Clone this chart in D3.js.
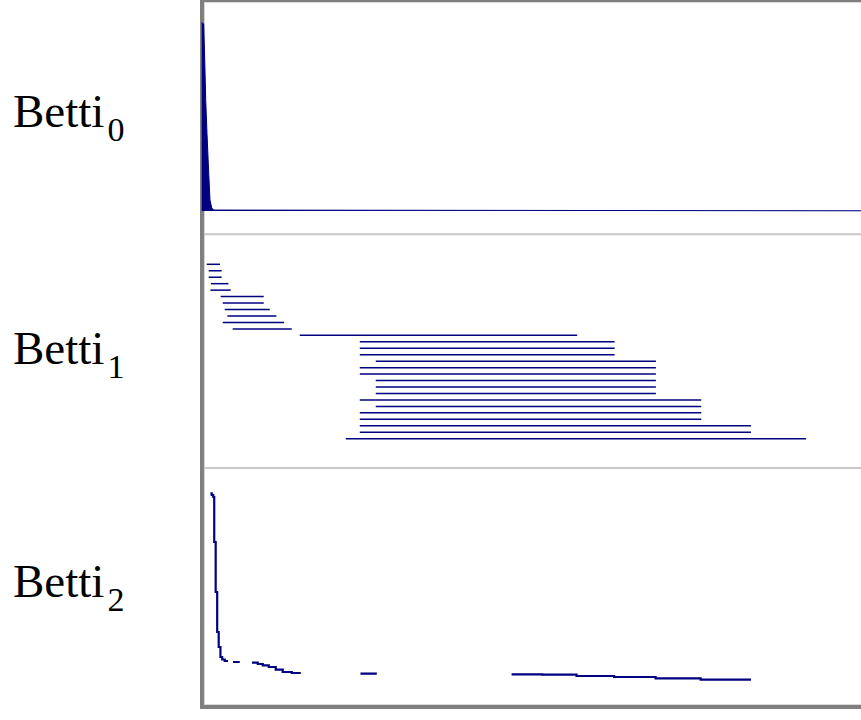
<!DOCTYPE html>
<html>
<head>
<meta charset="utf-8">
<script src="https://cdn.jsdelivr.net/npm/d3@7"></script>
<style>
  html, body { margin: 0; padding: 0; background: #fff; }
  svg { display: block; }
  .lbl { font-family: "Liberation Serif", "Times New Roman", Times, serif; }
</style>
</head>
<body>
<svg id="chart" width="861" height="720"></svg>
<script>
// ---- Data ----
const panelLabels = ["0", "1", "2"];

// Betti_0 curve (filtration, count)
const betti0X = [0, 0.30, 0.46, 0.61, 0.80, 1.06, 1.26, 1.52, 1.82, 100];
const betti0Y = [1000, 992, 799, 587, 413, 201, 58, 16, 5, 1];

// Betti_1 barcode (birth, death)
const betti1Birth = [0.76, 1.06, 1.06, 1.41, 1.32, 2.88, 3.19, 3.49, 3.90, 3.19, 4.70,
  14.87, 23.98, 23.98, 23.98, 26.40, 23.98, 23.98, 26.40, 26.40, 26.40,
  23.98, 26.40, 23.98, 23.98, 23.98, 23.98, 21.85];
const betti1Death = [2.78, 3.03, 3.03, 4.05, 4.40, 9.41, 9.41, 10.32, 11.34, 12.49, 13.66,
  56.95, 62.63, 62.63, 62.63, 68.89, 68.89, 68.89, 68.89, 68.89, 68.89,
  75.77, 75.77, 75.77, 75.77, 83.31, 83.31, 91.65];

// Betti_2 curve (filtration, count); null = not defined
const betti2X = [1.32, 1.52, 1.75, 1.90, 2.12, 2.35, 2.58, 2.84, 3.11, 3.49, 3.99, 3.99,
  4.75, 5.77, 5.77,
  7.63, 8.50, 9.26, 10.17, 11.23, 12.29, 13.66, 15.02, 15.02,
  24.08, 26.56, 26.56,
  47.0, 51.64, 56.86, 62.56, 68.85, 75.68, 83.31];
const betti2Y = [48.18, 47.75, 47.25, 36, 23.5, 13.5, 9.75, 7.25, 6.63, 6.25, 6.25, null,
  6.0, 6.0, null,
  5.83, 5.5, 5.18, 4.75, 4.08, 3.5, 3.25, 3.25, null,
  3.08, 3.08, null,
  2.93, 2.83, 2.5, 2.25, 1.93, 1.58, 1.58];

// ---- Drawing ----
const svg = d3.select("#chart");
const navy = "#000080";

const x = d3.scaleLinear().domain([0, 100]).range([201.7, 861]);

// Frame
svg.append("rect")
  .attr("x", 202).attr("y", 0).attr("width", 720).attr("height", 707)
  .attr("fill", "none").attr("stroke", "#808080").attr("stroke-width", 4);
svg.append("rect")
  .attr("x", 204.5).attr("y", 2.5).attr("width", 720).attr("height", 702)
  .attr("fill", "none").attr("stroke", "#d8d8d8").attr("stroke-width", 1);

// Separators
[234.3, 468].forEach(yy => {
  svg.append("line")
    .attr("x1", 204).attr("x2", 861).attr("y1", yy).attr("y2", yy)
    .attr("stroke", "#c8c8c8").attr("stroke-width", 2);
});

// Betti_0
const y0 = d3.scaleLinear().domain([0, 1000]).range([211, 22.5]);
const b0 = betti0X.map((v, i) => [v, betti0Y[i]]);
svg.append("path")
  .datum(b0)
  .attr("fill", navy)
  .attr("d", d3.area().x(d => x(d[0])).y0(y0(0)).y1(d => y0(d[1])));
svg.append("path")
  .datum(b0)
  .attr("fill", "none").attr("stroke", navy).attr("stroke-width", 1)
  .attr("d", d3.line().x(d => x(d[0])).y(d => y0(d[1])));

// Betti_1
const y1 = d3.scalePoint().domain(d3.range(betti1Birth.length)).range([264.3, 438.7]);
svg.append("g").selectAll("line")
  .data(betti1Birth.map((b, i) => ({ b, d: betti1Death[i], i })))
  .join("line")
  .attr("x1", d => x(d.b)).attr("x2", d => x(d.d))
  .attr("y1", d => y1(d.i)).attr("y2", d => y1(d.i))
  .attr("stroke", navy).attr("stroke-width", 1.5);

// Betti_2
const y2 = d3.scaleLinear().domain([0, 50]).range([686, 486]);
const b2 = betti2X.map((v, i) => [v, betti2Y[i]]);
svg.append("path")
  .datum(b2)
  .attr("fill", "none").attr("stroke", navy).attr("stroke-width", 2.2)
  .attr("d", d3.line().defined(d => d[1] !== null)
    .x(d => x(d[0])).y(d => y2(d[1])).curve(d3.curveStepAfter));

// Labels
const labelBase = [127.3, 364, 597.3];
panelLabels.forEach((s, i) => {
  const t = svg.append("text")
    .attr("class", "lbl")
    .attr("x", 13).attr("y", labelBase[i])
    .style("font-size", "47px").attr("fill", "#000");
  t.append("tspan").text("Betti");
  t.append("tspan").style("font-size", "34px").attr("dx", 3).attr("dy", 13.5).text(s);
});
</script>
</body>
</html>
